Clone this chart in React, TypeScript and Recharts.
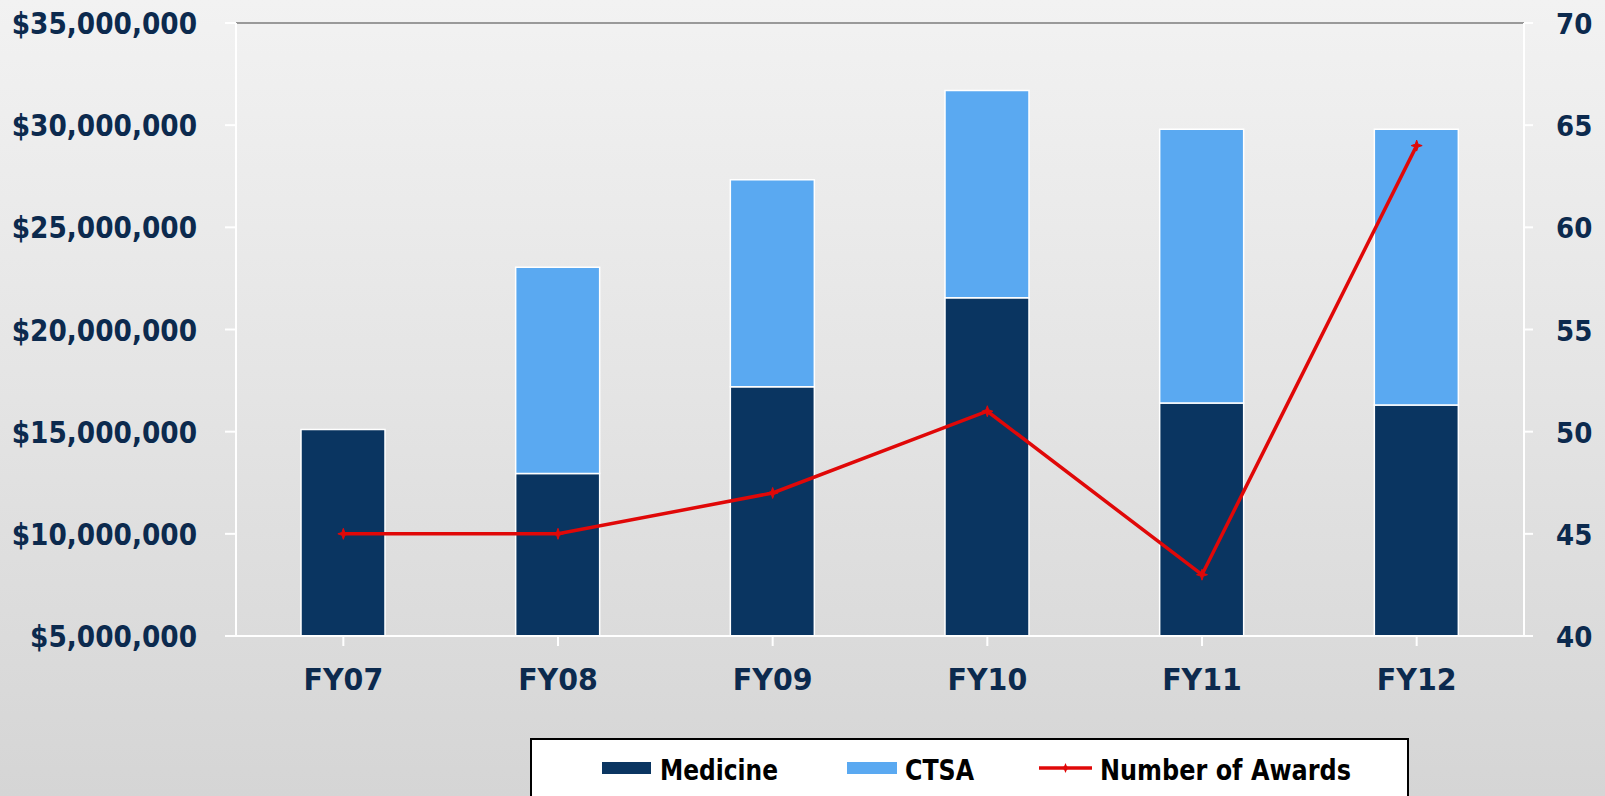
import React from 'react';
import { ComposedChart, Bar, Line, XAxis, YAxis, Legend, ReferenceLine } from 'recharts';

const categories = ['FY07', 'FY08', 'FY09', 'FY10', 'FY11', 'FY12'];
const medicine = [15100000, 12950000, 17200000, 21550000, 16400000, 16300000];
const ctsa = [0, 10100000, 10130000, 10150000, 13400000, 13500000];
const awards = [45, 45, 47, 51, 43, 64];
const leftTicks = [5000000, 10000000, 15000000, 20000000, 25000000, 30000000, 35000000];
const rightTicks = [40, 45, 50, 55, 60, 65, 70];
const seriesNames = ['Medicine', 'CTSA', 'Number of Awards'];

const data = categories.map((c, i) => ({ name: c, medicine: medicine[i], ctsa: ctsa[i], awards: awards[i] }));

const NAVY = '#0c2a4e';
const DARK = '#0a3561';
const LIGHT = '#5aa9f1';
const RED = '#e00808';
const FONT = '"DejaVu Sans", Verdana, sans-serif';

const fmtMoney = (v: number) => '$' + v.toLocaleString('en-US');

const LeftTick = (props: any) => {
  const { x, y, payload } = props;
  return (
    <g transform={`translate(${x},${y + 11}) scale(0.88,1)`}>
      <text x={0} y={0} textAnchor="end" fill={NAVY} fontFamily={FONT} fontWeight="bold" fontSize={30}>
        {fmtMoney(payload.value)}
      </text>
    </g>
  );
};

const RightTick = (props: any) => {
  const { x, y, payload } = props;
  return (
    <g transform={`translate(${x},${y + 11}) scale(0.9,1)`}>
      <text x={0} y={0} textAnchor="start" fill={NAVY} fontFamily={FONT} fontWeight="bold" fontSize={29}>
        {payload.value}
      </text>
    </g>
  );
};

const BottomTick = (props: any) => {
  const { x, y, payload } = props;
  return (
    <g transform={`translate(${x},${y + 44}) scale(0.95,1)`}>
      <text x={0} y={0} textAnchor="middle" fill={NAVY} fontFamily={FONT} fontWeight="bold" fontSize={30}>
        {payload.value}
      </text>
    </g>
  );
};

const StarDot = (props: any) => {
  const { cx, cy, index } = props;
  if (cx == null || cy == null) return null;
  const r = 5.5;
  const s = 1.4;
  const d = `M${cx},${cy - r} L${cx + s},${cy - s} L${cx + r},${cy} L${cx + s},${cy + s} L${cx},${cy + r} L${cx - s},${cy + s} L${cx - r},${cy} L${cx - s},${cy - s} Z`;
  return <path key={index} d={d} fill={RED} stroke={RED} strokeWidth={1} />;
};

const LegendBox = () => {
  const textProps = { fontFamily: FONT, fontWeight: 'bold' as const, fontSize: 29, fill: '#000', y: 42, lengthAdjust: 'spacingAndGlyphs' as const };
  return (
    <svg width={880} height={60} style={{ display: 'block' }}>
      <rect x={1} y={1} width={877} height={70} fill="#ffffff" stroke="#000" strokeWidth={2} />
      <rect x={72} y={24} width={49} height={12} fill={DARK} />
      <text x={130} textLength={118} {...textProps}>{seriesNames[0]}</text>
      <rect x={317} y={24} width={50} height={12} fill={LIGHT} />
      <text x={375} textLength={69} {...textProps}>{seriesNames[1]}</text>
      <line x1={509} y1={30} x2={562} y2={30} stroke={RED} strokeWidth={3.5} />
      <path d="M535.5,25 L537,28.5 L540.5,30 L537,31.5 L535.5,35 L534,31.5 L530.5,30 L534,28.5 Z" fill={RED} />
      <text x={570} textLength={251} {...textProps}>{seriesNames[2]}</text>
    </svg>
  );
};

export default function App() {
  return (
    <div
      style={{
        position: 'absolute',
        left: 0,
        top: 0,
        width: 1605,
        height: 796,
        overflow: 'hidden',
        background: 'linear-gradient(180deg, #f2f2f2 0%, #e4e4e4 50%, #d5d5d5 100%)',
      }}
    >
      <ComposedChart
        width={1605}
        height={796}
        data={data}
        margin={{ top: 23, right: 0, bottom: 40, left: 0 }}
        barCategoryGap={0}
      >
        <XAxis
          dataKey="name"
          axisLine={{ stroke: '#ffffff', strokeWidth: 2 }}
          tickLine={{ stroke: '#ffffff', strokeWidth: 2 }}
          tickSize={10}
          tickMargin={0}
          height={60}
          tick={<BottomTick />}
          interval={0}
        />
        <YAxis
          yAxisId="left"
          orientation="left"
          width={236}
          domain={[5000000, 35000000]}
          ticks={leftTicks}
          allowDataOverflow
          axisLine={{ stroke: '#ffffff', strokeWidth: 2 }}
          tickLine={{ stroke: '#ffffff', strokeWidth: 2 }}
          tickSize={11}
          tickMargin={28}
          tick={<LeftTick />}
          interval={0}
        />
        <YAxis
          yAxisId="right"
          orientation="right"
          width={81}
          domain={[40, 70]}
          ticks={rightTicks}
          allowDataOverflow
          axisLine={{ stroke: '#ffffff', strokeWidth: 2 }}
          tickLine={{ stroke: '#ffffff', strokeWidth: 2 }}
          tickSize={9}
          tickMargin={23}
          tick={<RightTick />}
          interval={0}
        />
        <ReferenceLine yAxisId="left" y={35000000} stroke="#999999" strokeWidth={2} />
        <Bar
          yAxisId="left"
          dataKey="medicine"
          name={seriesNames[0]}
          stackId="a"
          fill={DARK}
          stroke="#ffffff"
          strokeWidth={1.5}
          barSize={84}
          isAnimationActive={false}
        />
        <Bar
          yAxisId="left"
          dataKey="ctsa"
          name={seriesNames[1]}
          stackId="a"
          fill={LIGHT}
          stroke="#ffffff"
          strokeWidth={1.5}
          barSize={84}
          isAnimationActive={false}
        />
        <Line
          yAxisId="right"
          dataKey="awards"
          name={seriesNames[2]}
          type="linear"
          stroke={RED}
          strokeWidth={3.5}
          dot={<StarDot />}
          activeDot={false}
          isAnimationActive={false}
        />
        <Legend
          content={<LegendBox />}
          wrapperStyle={{ position: 'absolute', left: 530, top: 738, width: 880, height: 60, bottom: 'auto' }}
        />
      </ComposedChart>
    </div>
  );
}
